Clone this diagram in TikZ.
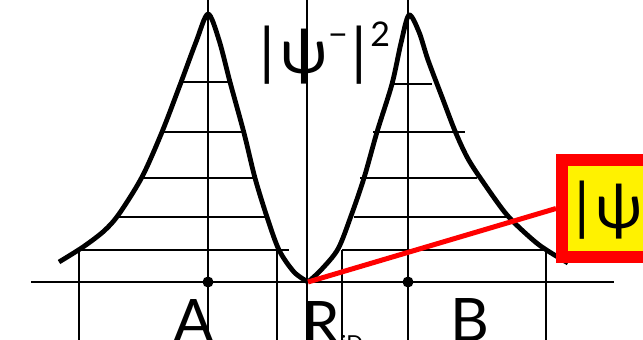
\documentclass[tikz,border=0pt]{standalone}
\usepackage{fontspec}
\setmainfont{Lato}
\newcommand{\supsm}[1]{\raisebox{0.42em}{\fontsize{34}{34}\selectfont #1}}
\begin{document}
\begin{tikzpicture}[x=1pt,y=-1pt,
  gridln/.style={line width=1.4pt, black},
  hatch/.style={line width=1.3pt, black},
  curvest/.style={line width=4.8pt, black, line join=round, line cap=butt},
  dotst/.style={circle, fill=black, inner sep=0pt, minimum size=11pt},
  bigtxt/.style={font=\fontsize{62}{62}\selectfont, inner sep=0pt},
  lbl/.style={font=\fontsize{60}{60}\selectfont, inner sep=0pt},
  boxst/.style={draw=red, line width=12pt, fill=yellow, inner xsep=12pt, inner ysep=0pt,
     minimum height=97pt, text width=160pt, align=left, font=\fontsize{62}{62}\selectfont},
  redln/.style={red, line width=5pt}]
\useasboundingbox (0,0) rectangle (643,340);
\clip (0,0) rectangle (643,340);
\fill[white] (0,0) rectangle (643,340);
% named points
\coordinate (A) at (208,282);
\coordinate (O) at (308,282);
\coordinate (B) at (408,282);
% vertical lines
\draw[gridln] (208,0) -- (208,340);
\draw[gridln] (307,0) -- (307,340);
\draw[gridln] (408,0) -- (408,340);
\draw[gridln] (79,250) -- (79,340);
\draw[gridln] (277,250) -- (277,340);
\draw[gridln] (342,250) -- (342,340);
\draw[gridln] (546,250) -- (546,340);
% axis
\draw[gridln] (31,282) -- (614,282);
% hatch lines left
\draw[hatch] (183,82) -- (230,82);
\draw[hatch] (162,132) -- (244,132);
\draw[hatch] (141,178) -- (256,178);
\draw[hatch] (119,217) -- (268,217);
\draw[hatch] (79,250) -- (289,250);
% hatch lines right
\draw[hatch] (393,84) -- (432,84);
\draw[hatch] (373,132) -- (465,132);
\draw[hatch] (360,178) -- (477,178);
\draw[hatch] (354,217) -- (507,217);
\draw[hatch] (342,250) -- (550,250);
% curves
\draw[curvest] plot[smooth, tension=0.5] coordinates {(59,262) (83,247) (104,231) (119,214) (142,177) (162,132) (180,85) (196,42) (208,14) (219,40) (230,82) (244,133) (255,178) (267,217) (279,250) (294,272) (308,282)};
\draw[curvest] plot[smooth, tension=0.5] coordinates {(308,282) (321,270) (338,249) (351,216) (364,178) (377,132) (392,84) (401,43) (409,15) (419,32) (428,60) (442,97) (455,131) (467,157) (481,179) (507,215) (533,240) (548,251) (568,263)};
% dots
\node[dotst] (dA) at (A) {};
\node[dotst] (dB) at (B) {};
% title
\node[bigtxt, anchor=base west] (title) at (259,73) {|\hspace{6pt}ψ\supsm{−}\hspace{4pt}|\hspace{3pt}\supsm{2}};
% labels
\node[lbl, anchor=north] (lA) at (194,299) {A};
\node[lbl, anchor=north west] (lR) at (302,301) {R};
\node[font=\fontsize{22}{22}\selectfont, inner sep=0pt, anchor=north west] (lsub) at (341,335) {iD};
\node[lbl, anchor=north] (lB) at (470,298) {B};
% callout
\node[boxst, anchor=north west] (box) at (556,154) {|\hspace{6pt}ψ\supsm{+}|\supsm{2}};
\draw[redln] (O) -- (box.west);
\node[boxst, anchor=north west] at (556,154) {|\hspace{6pt}ψ\supsm{+}|\supsm{2}};
\end{tikzpicture}
\end{document}
